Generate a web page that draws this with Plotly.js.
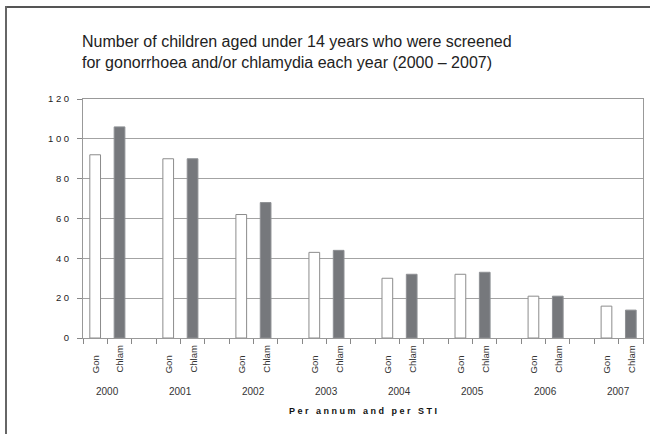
<!DOCTYPE html>
<html>
<head>
<meta charset="utf-8">
<script src="https://cdn.plot.ly/plotly-3.0.1.min.js"></script>
<style>html,body{margin:0;padding:0;background:#fff;}#chart{width:650px;height:434px;}</style>
</head>
<body>
<div id="chart"></div>
<script>
const years = ['2000','2001','2002','2003','2004','2005','2006','2007'];
const stiLabels = ['Gon','Chlam'];
const gonValues = [92, 90, 62, 43, 30, 32, 21, 16];
const chlamValues = [106, 90, 68, 44, 32, 33, 21, 14];
const yTickVals = [0, 20, 40, 60, 80, 100, 120];
const yTickText = ['0', '2 0', '4 0', '6 0', '8 0', '1 0 0', '1 2 0'];
const titleText = 'Number of children aged under 14 years who were screened<br>for gonorrhoea and/or chlamydia each year (2000 – 2007)';
const xTitleText = 'P e r   a n n u m   a n d   p e r   S T I';

const FONT = 'Liberation Sans, Arial, Helvetica, sans-serif';
const slotsPerYear = 3;
const gonX = years.map((_, i) => i * slotsPerYear);
const chlamX = years.map((_, i) => i * slotsPerYear + 1);
const nSlots = years.length * slotsPerYear - 1;
const boundaries = [];
for (let k = 0; k <= nSlots; k++) boundaries.push(k - 0.5);

const traces = [
  {type: 'bar', x: gonX, y: gonValues, width: 0.44, name: stiLabels[0],
   marker: {color: '#ffffff', line: {color: '#8c8c8c', width: 1}}, hoverinfo: 'y'},
  {type: 'bar', x: chlamX, y: chlamValues, width: 0.44, name: stiLabels[1],
   marker: {color: '#76787c', line: {color: '#8e9094', width: 1}}, hoverinfo: 'y'}
];

const annotations = [];
years.forEach((yr, i) => {
  [gonX[i], chlamX[i]].forEach((xv, j) => {
    annotations.push({x: xv, y: -0.155, xref: 'x', yref: 'paper', text: stiLabels[j],
      textangle: -90, showarrow: false, xanchor: 'center', yanchor: 'bottom',
      font: {family: FONT, size: 9.5, color: '#333'}});
  });
  annotations.push({x: (gonX[i] + chlamX[i]) / 2, y: -0.222, xref: 'x', yref: 'paper', text: yr,
    showarrow: false, xanchor: 'center', yanchor: 'middle',
    font: {family: FONT, size: 10, color: '#333'}});
});

const layout = {
  width: 650, height: 434,
  margin: {l: 83, r: 7, t: 99, b: 96},
  paper_bgcolor: '#ffffff', plot_bgcolor: '#ffffff',
  showlegend: false,
  bargap: 0,
  title: {text: titleText, x: 82/650, xref: 'container', xanchor: 'left',
          y: 1 - 47/434, yref: 'container', yanchor: 'top',
          font: {family: FONT, size: 16, color: '#222'}},
  xaxis: {range: [-0.5, nSlots - 0.5], tickvals: boundaries, ticktext: boundaries.map(() => ''),
          ticks: 'outside', ticklen: 5, tickcolor: '#888', showgrid: false, zeroline: false,
          showline: true, linecolor: '#999', linewidth: 1, mirror: true,
          title: {text: xTitleText, standoff: 62, font: {family: FONT, size: 9, color: '#111', weight: 'bold'}},
          automargin: false, fixedrange: true},
  yaxis: {range: [0, 120], tickvals: yTickVals, ticktext: yTickText,
          ticks: 'outside', ticklen: 5, tickcolor: '#888', ticklabelstandoff: 6,
          showgrid: true, gridcolor: '#a3a3a3', gridwidth: 1, zeroline: false,
          showline: true, linecolor: '#999', linewidth: 1, mirror: true,
          tickfont: {family: FONT, size: 9.5, color: '#222'}, automargin: false, fixedrange: true},
  annotations: annotations,
  shapes: [
    {type: 'line', xref: 'paper', yref: 'paper', x0: (6-83)/560, x1: (650-83)/560, y0: (338-7)/239, y1: (338-7)/239,
     line: {color: '#555', width: 2}},
    {type: 'line', xref: 'paper', yref: 'paper', x0: (6-83)/560, x1: (6-83)/560, y0: (338-6)/239, y1: (338-440)/239,
     line: {color: '#666', width: 2}}
  ]
};

Plotly.newPlot('chart', traces, layout, {displayModeBar: false, staticPlot: true});
</script>
</body>
</html>
